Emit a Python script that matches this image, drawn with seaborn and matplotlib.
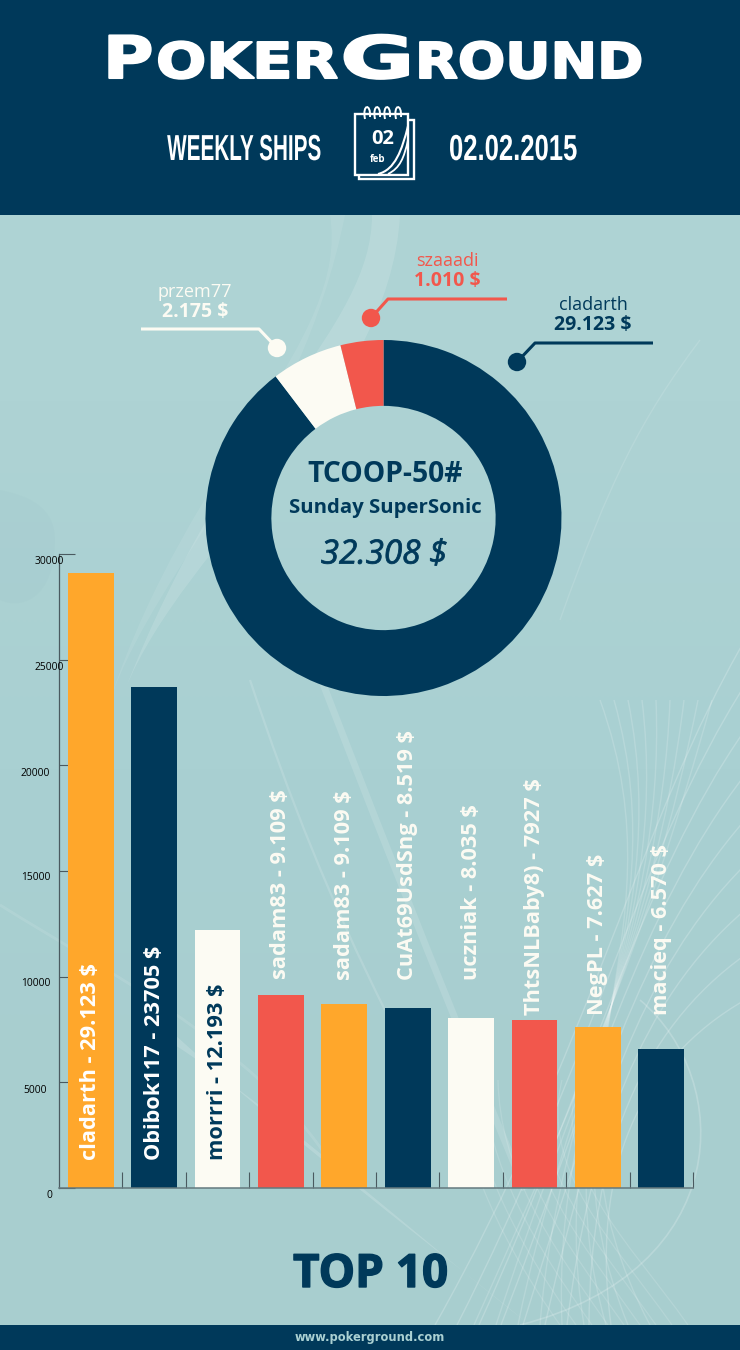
"""
PokerGround weekly ships infographic: TCOOP-50# prize donut and top 10 bars.
"""

import numpy as np
import pandas as pd
import matplotlib
matplotlib.use('Agg')
import matplotlib.pyplot as plt
import seaborn as sns
from matplotlib.colors import LinearSegmentedColormap
from matplotlib.patches import Circle, PathPatch, Rectangle
from matplotlib.path import Path
from matplotlib.patheffects import AbstractPathEffect
from matplotlib.transforms import Affine2D

# Data
donut_players = ['cladarth', 'przem77', 'szaaadi']
donut_prizes = ['29.123 $', '2.175 $', '1.010 $']
donut_values = [28962, 2090, 1256]

bar_labels = ['cladarth - 29.123 $', 'Obibok117 - 23705 $', 'morrri - 12.193 $',
              'sadam83 - 9.109 $', 'sadam83 - 9.109 $', 'CuAt69UsdSng - 8.519 $',
              'uczniak - 8.035 $', 'ThtsNLBaby8) - 7927 $', 'NegPL - 7.627 $',
              'macieq - 6.570 $']
bar_values = [29123, 23705, 12193, 9109, 8707, 8519, 8035, 7927, 7627, 6570]
y_ticks = [0, 5000, 10000, 15000, 20000, 25000, 30000]

# Colours
NAVY = '#00395A'
ORANGE = '#FFA72B'
RED = '#F2574C'
CREAM = '#FCFBF3'
TEAL = '#AAD0D2'
bar_colors = [ORANGE, NAVY, CREAM, RED, ORANGE, NAVY, CREAM, RED, ORANGE, NAVY]

sns.set_theme(style='white')
plt.rcParams['font.family'] = ['Open Sans', 'DejaVu Sans']

W, H = 740, 1350
fig = plt.figure(figsize=(W / 100, H / 100), dpi=100, facecolor=TEAL)


class Stretch(AbstractPathEffect):
    """Scale glyphs sideways, no narrow font is installed.
    Pivot is a pixel x, the left edge of the text when not given."""

    def __init__(self, sx, stroke=0.0, pivot=None):
        super().__init__()
        self.sx = sx
        self.stroke = stroke
        self.pivot = pivot

    def draw_path(self, renderer, gc, tpath, affine, rgbFace=None):
        m = affine.get_matrix().copy()
        m[0, :2] *= self.sx
        if self.pivot is not None:
            m[0, 2] = self.pivot - (self.pivot - m[0, 2]) * self.sx
        gc0 = renderer.new_gc()
        gc0.copy_properties(gc)
        if self.stroke:
            gc0.set_linewidth(self.stroke)
            gc0.set_foreground(rgbFace)
        renderer.draw_path(gc0, tpath, Affine2D(m), rgbFace)
        gc0.restore()


def px_axes(left, top, right, bottom, z):
    """Axes placed with pixel edges, measured from the top left of the figure"""
    return fig.add_axes([left / W, 1 - bottom / H, (right - left) / W, (bottom - top) / H], zorder=z)


def curve(ax, pts, lw=1.0, alpha=0.15, color='white', fill=False):
    """Smooth decorative bezier, pts are 1 + 3n pixel positions"""
    codes = [Path.MOVETO] + [Path.CURVE4] * (len(pts) - 1)
    if fill:
        ax.add_patch(PathPatch(Path(pts, codes), fc=color, ec='none', alpha=alpha))
    else:
        ax.add_patch(PathPatch(Path(pts, codes), fc='none', ec=color, lw=lw, alpha=alpha))


# Background layer
bg = px_axes(0, 0, W, H, 0)
shade = np.array([[0.0], [0.5], [1.0]])
bg.imshow(shade, extent=(0, W, 1325, 215), aspect='auto', zorder=0, interpolation='bilinear',
          cmap=LinearSegmentedColormap.from_list('bg', ['#AED3D4', '#A9D0D2', '#A8CECF']))
bg.set_xlim(0, W)
bg.set_ylim(H, 0)
bg.axis('off')

# soft swooshes behind the chart
curve(bg, [(372, 215), (372, 330), (230, 420), (125, 690), (185, 540), (390, 400), (400, 215)], alpha=0.13, fill=True)
curve(bg, [(330, 215), (350, 340), (190, 460), (110, 700), (160, 560), (300, 440), (345, 215)], alpha=0.08, fill=True)
curve(bg, [(310, 650), (360, 780), (430, 960), (525, 1190)], lw=5, alpha=0.13)
curve(bg, [(250, 680), (290, 800), (330, 900), (385, 1010)], lw=1.6, alpha=0.14)
curve(bg, [(175, 1035), (280, 1130), (400, 1220), (530, 1325), (420, 1240), (290, 1120), (175, 1045)], alpha=0.16, fill=True)
curve(bg, [(0, 905), (120, 980), (280, 1060), (345, 1188)], lw=2, alpha=0.10)
curve(bg, [(0, 490), (25, 495), (55, 505), (55, 540), (55, 600), (20, 610), (0, 600)], color='#6E9CA0', alpha=0.04, fill=True)

# thin line mesh at the lower right
for k in range(9):
    curve(bg, [(745, 640 + 45 * k), (640, 820 + 30 * k), (590, 1050 + 15 * k), (435 + 22 * k, 1325)], lw=1.0, alpha=0.20)
    curve(bg, [(600 + 14 * k, 700), (690 - 6 * k, 950), (520 + 8 * k, 1080), (650 - 22 * k, 1325)], lw=1.0, alpha=0.17)
    curve(bg, [(450 + 16 * k, 1080), (470 + 10 * k, 1170), (500 + 16 * k, 1240), (560 + 16 * k, 1325)], lw=0.9, alpha=0.14)
curve(bg, [(640, 1000), (735, 1080), (735, 1270), (520, 1325)], lw=1.2, alpha=0.20)
curve(bg, [(700, 340), (640, 420), (610, 480), (560, 620)], lw=1.0, alpha=0.12)

# header and footer bands
bg.add_patch(Rectangle((0, 0), W, 215, fc=NAVY, ec='none', zorder=3))
bg.add_patch(Rectangle((0, 1325), W, 25, fc=NAVY, ec='none', zorder=3))

# Top 10 bars
ax = px_axes(59, 554, 693, 1188, 2)
ax.patch.set_alpha(0)
df = pd.DataFrame({'rank': list(range(1, len(bar_values) + 1)), 'value': bar_values})
sns.barplot(data=df, x='rank', y='value', hue='rank', palette=bar_colors, legend=False,
            dodge=False, width=0.72, saturation=1, linewidth=0, ax=ax)
ax.set_xlim(-0.5, 9.5)
ax.set_ylim(0, 30000)
ax.set_xlabel('')
ax.set_ylabel('')
sns.despine(ax=ax)
ax.spines['left'].set_color('#4A5A60')
ax.spines['left'].set_linewidth(0.9)
ax.spines['bottom'].set_color('#64797E')
ax.spines['bottom'].set_linewidth(1.1)

ax.set_xticks(np.arange(0.5, 10, 1))
ax.set_xticklabels([])
ax.tick_params(axis='x', direction='in', length=11.5, width=0.8, color='#4A5A60', bottom=True)
ax.set_yticks(y_ticks)
ax.set_yticklabels([])
ax.tick_params(axis='y', direction='in', length=6.5, width=0.8, color='#4A5A60', left=True)
for t in [ax.yaxis.get_major_ticks()[0], ax.yaxis.get_major_ticks()[-1]]:
    t.tick1line.set_markersize(11.5)

tick_right = [-7, -12, -9, -9, -9, 5, 5]
tick_drop = [-7, -8, -7, -7, -8, -8, -7]
for val, dx, dy in zip(y_ticks, tick_right, tick_drop):
    ax.annotate(str(val), xy=(0, val), xycoords=ax.get_yaxis_transform(), xytext=(dx, dy),
                textcoords='offset pixels', ha='right', va='center', fontsize=7.4, color='black',
                annotation_clip=False)

# bar captions: first three sit inside the bars, the rest above them
caption_gap = [None, None, None, 16, 24, 28, 38, 5, 12, 34]
caption_color = ['white', 'white', NAVY] + [CREAM] * 7
for i, (label, val) in enumerate(zip(bar_labels, bar_values)):
    gap = caption_gap[i]
    ax.annotate(label, xy=(i, 0 if gap is None else val), xytext=(0, 28 if gap is None else gap),
                textcoords='offset pixels', rotation=90, ha='center', va='bottom',
                fontsize=15.7, fontweight='bold', color=caption_color[i], annotation_clip=False)

# Donut
donut = px_axes(205.5, 340, 561.5, 696, 3)
donut.pie(donut_values, colors=[NAVY, CREAM, RED], startangle=90, counterclock=False,
          radius=1, wedgeprops={'width': 0.37, 'linewidth': 0})
donut.set_xlim(-1, 1)
donut.set_ylim(-1, 1)

# Foreground texts and decorations
fg = px_axes(0, 0, W, H, 4)
fg.patch.set_alpha(0)
fg.set_xlim(0, W)
fg.set_ylim(H, 0)
fg.axis('off')

# logo, large first letters like the original small caps
for txt, x, size, sx in [('P', 103, 42, 1.18), ('OKER', 156, 35.5, 1.2),
                         ('G', 340, 42, 1.56), ('ROUND', 415, 35.5, 1.13)]:
    fg.text(x, 78, txt, fontsize=size, fontweight='bold', family='DejaVu Sans', color='white',
            ha='left', va='baseline', path_effects=[Stretch(sx, 1.5)])

# squeezed towards the outer side of the calendar icon
fg.text(321, 160, 'WEEKLY SHIPS', family='Liberation Sans', fontsize=26, fontweight='bold', color='white',
        ha='right', va='baseline', path_effects=[Stretch(0.573, pivot=321)])
fg.text(449, 160, '02.02.2015', family='Liberation Sans', fontsize=26, fontweight='bold', color='white',
        ha='left', va='baseline', path_effects=[Stretch(0.71)])

# calendar icon
fg.add_patch(Rectangle((359, 120), 55, 59, fc=NAVY, ec='white', lw=1.7))
fg.add_patch(Rectangle((355, 114), 53, 61, fc=NAVY, ec='white', lw=1.7))
for x in [367, 377, 387, 398]:
    curve(fg, [(x - 2, 119), (x - 5, 104), (x + 4, 103), (x + 3, 117)], lw=1.4, alpha=1)
curve(fg, [(408, 126), (402, 150), (395, 170), (378, 174)], lw=1.5, alpha=1)
curve(fg, [(408, 140), (404, 158), (400, 168), (388, 174)], lw=1.3, alpha=1)
fg.text(383, 139, '02', fontsize=14.5, fontweight='bold', color='white', ha='center', va='center')
fg.text(378, 159, 'feb', fontsize=7, fontweight='bold', color='white', ha='center', va='center')

# donut callouts
callouts = [
    (517, 362, [(517, 362), (535, 343), (653, 343)], NAVY, 593, 305),
    (277, 348, [(277, 348), (259, 329), (141, 329)], CREAM, 195, 292),
    (371, 318, [(371, 318), (388, 299), (507, 299)], RED, 447.5, 261),
]
for (dx, dy, line, col, tx, ty), name, prize in zip(callouts, donut_players, donut_prizes):
    xs, ys = zip(*line)
    fg.plot(xs, ys, color=col, lw=2.2, solid_capstyle='butt')
    fg.add_patch(Circle((dx, dy), 9.2, fc=col, ec='none'))
    fg.text(tx, ty, name, color=col, fontsize=13, ha='center', va='center')
    fg.text(tx, ty + 20, prize, color=col, fontsize=14, fontweight='bold', ha='center', va='center')

# donut centre
fg.text(385, 475, 'TCOOP-50#', color=NAVY, fontsize=20.3, fontweight='bold', ha='center', va='center')
fg.text(385, 508, 'Sunday SuperSonic', color=NAVY, fontsize=14.7, fontweight='bold', ha='center', va='center')
fg.text(384, 555, '32.308 $', color=NAVY, fontsize=23.9, style='italic', ha='center', va='center',
        path_effects=[Stretch(1.0, 0.6)])

fg.text(293, 1287, 'TOP 10', color=NAVY, fontsize=33, fontweight='bold', ha='left', va='baseline',
        path_effects=[Stretch(1.0, 1.0)])
fg.text(370, 1337, 'www.pokerground.com', color=TEAL, fontsize=8.3, fontweight='bold',
        family='DejaVu Sans', ha='center', va='center')

plt.savefig('out.png', dpi=100, facecolor=TEAL)
plt.close()
